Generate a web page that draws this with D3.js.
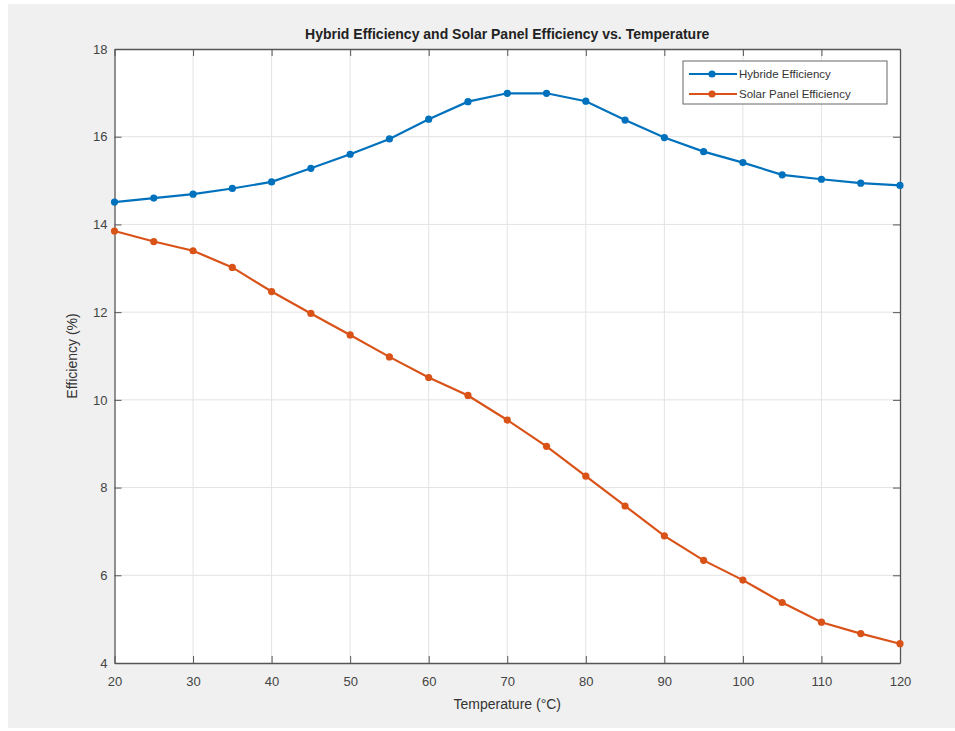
<!DOCTYPE html>
<html>
<head>
<meta charset="utf-8">
<script src="https://cdn.jsdelivr.net/npm/d3@7"></script>
<style>
  body { margin: 0; background: #fff; }
  svg { display: block; font-family: "Liberation Sans", Arial, sans-serif; }
</style>
</head>
<body>
<div id="viz"></div>
<script>
// data
var temps = [20, 25, 30, 35, 40, 45, 50, 55, 60, 65, 70, 75, 80, 85, 90, 95, 100, 105, 110, 115, 120];
var hybrid = [14.51, 14.60, 14.69, 14.82, 14.97, 15.28, 15.60, 15.95, 16.40, 16.80, 16.99, 16.99, 16.81, 16.38, 15.98, 15.66, 15.41, 15.13, 15.03, 14.94, 14.89];
var solar = [13.85, 13.61, 13.40, 13.02, 12.47, 11.97, 11.48, 10.98, 10.51, 10.10, 9.54, 8.94, 8.26, 7.58, 6.90, 6.34, 5.89, 5.38, 4.93, 4.67, 4.44];
var xTicks = [20, 30, 40, 50, 60, 70, 80, 90, 100, 110, 120];
var yTicks = [4, 6, 8, 10, 12, 14, 16, 18];
var seriesNames = ["Hybride Efficiency", "Solar Panel Efficiency"];
var colors = ["#0072BD", "#D95319"];

var width = 955,
    height = 731;

// plot box (window.top is reserved, so use own names)
var axL = 114.5, axR = 900, axT = 49, axB = 663;

var svg = d3.select("#viz").append("svg")
    .attr("width", width)
    .attr("height", height);

// figure background
svg.append("rect")
    .attr("x", 8).attr("y", 4)
    .attr("width", width - 8).attr("height", 724)
    .attr("fill", "#f0f0f0");

var x = d3.scaleLinear().domain([20, 120]).range([axL, axR]);
var y = d3.scaleLinear().domain([4, 18]).range([axB, axT]);

// axes area
svg.append("rect")
    .attr("x", axL).attr("y", axT)
    .attr("width", axR - axL).attr("height", axB - axT)
    .attr("fill", "#fff");

// grid
svg.append("g").selectAll("line")
    .data(xTicks.slice(1, -1))
    .enter().append("line")
    .attr("x1", function(d) { return x(d); })
    .attr("x2", function(d) { return x(d); })
    .attr("y1", axT).attr("y2", axB)
    .attr("stroke", "#e3e3e3").attr("stroke-width", 1);

svg.append("g").selectAll("line")
    .data(yTicks.slice(1, -1))
    .enter().append("line")
    .attr("y1", function(d) { return y(d); })
    .attr("y2", function(d) { return y(d); })
    .attr("x1", axL).attr("x2", axR)
    .attr("stroke", "#e3e3e3").attr("stroke-width", 1);

// axes with inward ticks
var axisColor = "#555";
var xAxis = svg.append("g")
    .attr("transform", "translate(0," + axB + ")")
    .call(d3.axisBottom(x).tickValues(xTicks).tickSizeInner(-7).tickSizeOuter(0).tickPadding(14));
var xTop = svg.append("g")
    .attr("transform", "translate(0," + axT + ")")
    .call(d3.axisTop(x).tickValues(xTicks).tickSizeInner(-7).tickSizeOuter(0).tickFormat(""));
var yAxis = svg.append("g")
    .attr("transform", "translate(" + axL + ",0)")
    .call(d3.axisLeft(y).tickValues(yTicks).tickSizeInner(-7).tickSizeOuter(0).tickPadding(7));
var yRight = svg.append("g")
    .attr("transform", "translate(" + axR + ",0)")
    .call(d3.axisRight(y).tickValues(yTicks).tickSizeInner(-7).tickSizeOuter(0).tickFormat(""));

[xAxis, xTop, yAxis, yRight].forEach(function(g) {
    g.select(".domain").attr("stroke", axisColor).attr("stroke-width", 1.3);
    g.selectAll(".tick line").attr("stroke", axisColor);
    g.selectAll(".tick text")
        .attr("fill", "#444")
        .style("font-size", "13px")
        .style("font-family", "'Liberation Sans', Arial, sans-serif");
});

// lines
var line = d3.line()
    .x(function(d, i) { return x(temps[i]); })
    .y(function(d) { return y(d); });

[hybrid, solar].forEach(function(vals, k) {
    svg.append("path")
        .datum(vals)
        .attr("d", line)
        .attr("fill", "none")
        .attr("stroke", colors[k])
        .attr("stroke-width", 2.2);
    svg.append("g").selectAll("circle")
        .data(vals)
        .enter().append("circle")
        .attr("cx", function(d, i) { return x(temps[i]); })
        .attr("cy", function(d) { return y(d); })
        .attr("r", 3.6)
        .attr("fill", colors[k]);
});

// legend
var lg = svg.append("g");
lg.append("rect")
    .attr("x", 683).attr("y", 61)
    .attr("width", 204).attr("height", 43)
    .attr("fill", "#fff")
    .attr("stroke", "#666").attr("stroke-width", 1);
seriesNames.forEach(function(name, k) {
    var ly = 74 + k * 20;
    lg.append("line")
        .attr("x1", 689).attr("x2", 737)
        .attr("y1", ly).attr("y2", ly)
        .attr("stroke", colors[k]).attr("stroke-width", 2.2);
    lg.append("circle")
        .attr("cx", 712).attr("cy", ly).attr("r", 3.6)
        .attr("fill", colors[k]);
    lg.append("text")
        .attr("x", 739).attr("y", ly + 4)
        .attr("fill", "#333")
        .style("font-size", "11.5px")
        .text(name);
});

// title and labels
svg.append("text")
    .attr("x", (axL + axR) / 2).attr("y", 39)
    .attr("text-anchor", "middle")
    .attr("fill", "#222")
    .style("font-size", "14px")
    .style("font-weight", "bold")
    .text("Hybrid Efficiency and Solar Panel Efficiency vs. Temperature");

svg.append("text")
    .attr("x", (axL + axR) / 2).attr("y", 709)
    .attr("text-anchor", "middle")
    .attr("fill", "#333")
    .style("font-size", "14px")
    .text("Temperature (°C)");

svg.append("text")
    .attr("transform", "translate(77," + ((axT + axB) / 2) + ") rotate(-90)")
    .attr("text-anchor", "middle")
    .attr("fill", "#333")
    .style("font-size", "14px")
    .text("Efficiency (%)");
</script>
</body>
</html>
